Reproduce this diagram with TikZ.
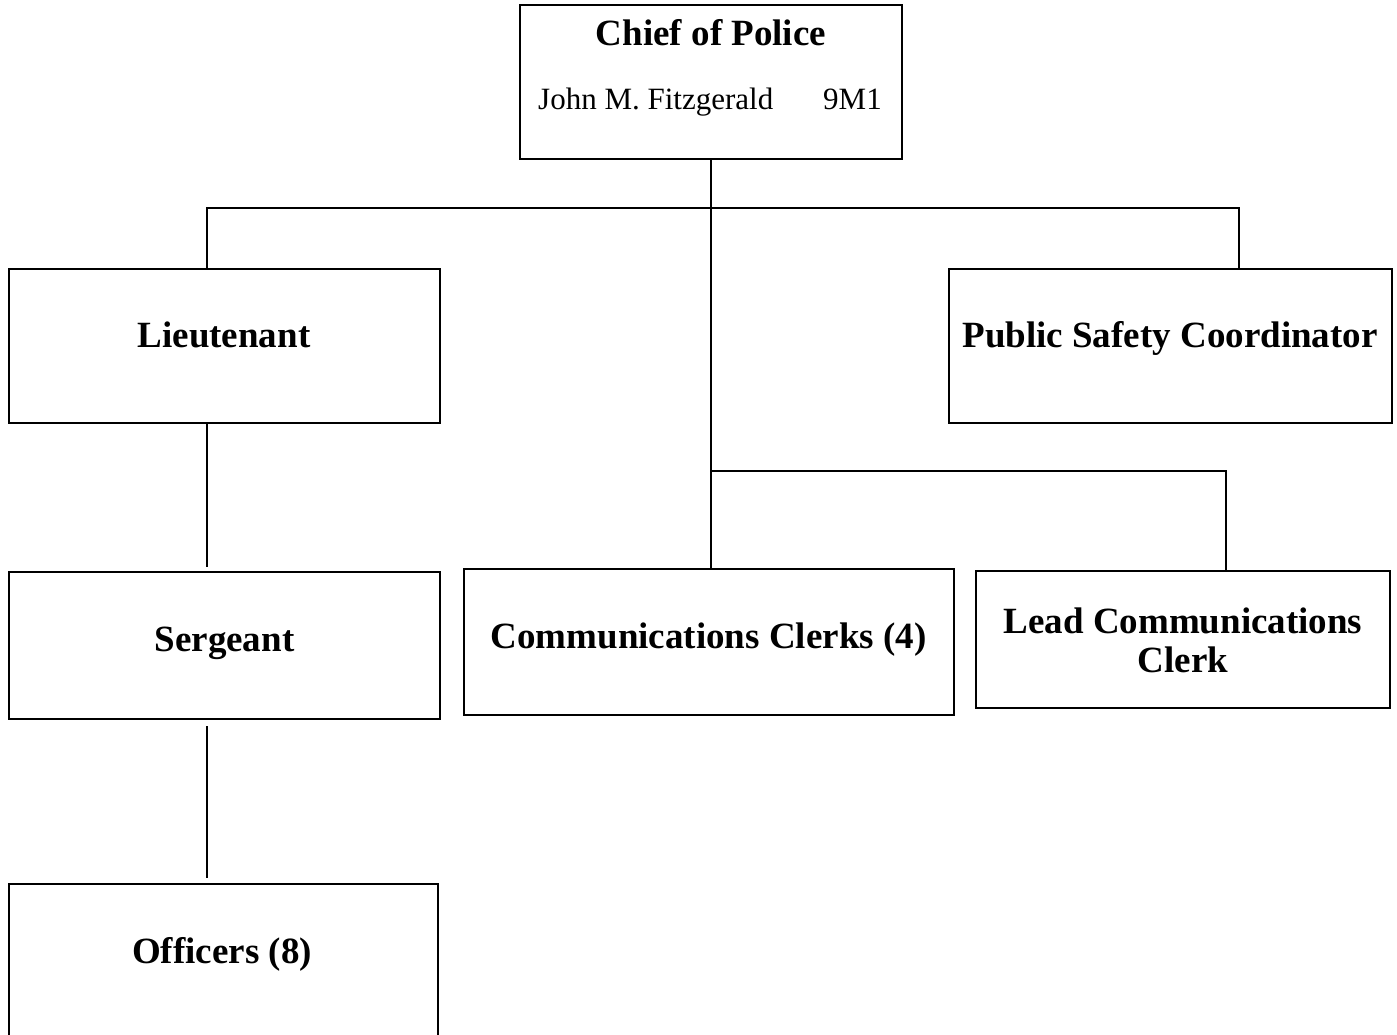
\documentclass[tikz,border=0pt]{standalone}
\usepackage{fontspec}
\setmainfont{Liberation Serif}
\begin{document}
\begin{tikzpicture}[x=1pt,y=-1pt,
  box/.style={draw=black, line width=2.3pt, inner sep=0pt, fill=white},
  conn/.style={draw=black, line width=2.3pt},
  ttl/.style={font=\bfseries\fontsize{37}{40}\selectfont, inner sep=0pt, anchor=base},
  reg/.style={font=\fontsize{31}{34}\selectfont, inner sep=0pt}]
\path[use as bounding box] (0,0) rectangle (1397,1034);
\clip (0,0) rectangle (1397,1034);
\fill[white] (0,0) rectangle (1397,1034);
% boxes
\node[box, minimum width=382pt, minimum height=154pt] (chief) at (711,82) {};
\node[box, minimum width=431pt, minimum height=154pt] (lieut) at (224.5,346) {};
\node[box, minimum width=443pt, minimum height=154pt] (psc) at (1170.5,346) {};
\node[box, minimum width=431pt, minimum height=147pt] (serg) at (224.5,645.5) {};
\node[box, minimum width=490pt, minimum height=146pt] (comm) at (709,642) {};
\node[box, minimum width=414pt, minimum height=137pt] (lead) at (1183,639.5) {};
\node[box, minimum width=429pt, minimum height=156pt] (off) at (223.5,962) {};
% texts
\node[ttl] (chieft) at (711,45) {Chief of Police};
\node[reg, anchor=base west] (chiefn) at (538,109) {John M. Fitzgerald};
\node[reg, anchor=base east] (chiefc) at (882,109) {9M1};
\node[ttl] (lieutt) at (224,347) {Lieutenant};
\node[ttl] (psct) at (1170,347) {Public Safety Coordinator};
\node[ttl] (sergt) at (224.5,651) {Sergeant};
\node[ttl] (commt) at (708.5,648) {Communications Clerks (4)};
\node[ttl] (leadt1) at (1183,633) {Lead Communications};
\node[ttl] (leadt2) at (1183,672) {Clerk};
\node[ttl] (offt) at (222,963) {Officers (8)};
% junctions
\coordinate (j1) at (711,208);
\coordinate (j2) at (711,471);
% connectors
\draw[conn] (chief.south) -- (chief.south |- comm.north);
\draw[conn] ([xshift=-17.5pt]lieut.north) |- (j1) -| ([xshift=68.5pt]psc.north);
\draw[conn] (j2) -| ([xshift=43pt]lead.north);
\draw[conn, shorten >=4pt] ([xshift=-17.5pt]lieut.south) -- ([xshift=-17.5pt]serg.north);
\draw[conn, shorten <=6pt, shorten >=5pt] ([xshift=-17.5pt]serg.south) -- ([xshift=-16.5pt]off.north);
\end{tikzpicture}
\end{document}
